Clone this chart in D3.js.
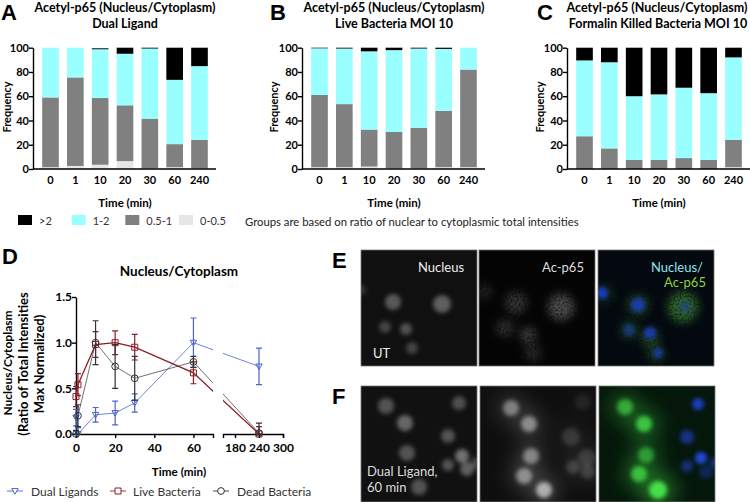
<!DOCTYPE html>
<html>
<head>
<meta charset="utf-8">
<script src="https://d3js.org/d3.v7.min.js"></script>
<style>
  body { margin: 0; background: #fff; }
  svg { display: block; }
  text { font-family: Lato, "Open Sans", sans-serif; fill: #000; }
  .tick text { font-size: 11px; font-weight: 700; }
  .big .tick text { font-size: 12px; }
  .bold { font-weight: 700; }
  .letter { font-family: "Liberation Sans", sans-serif; font-weight: 700; font-size: 22px; }
</style>
</head>
<body>
<div id="chart"></div>
<script>
// time points for the stacked bars
var times = ['0', '1', '10', '20', '30', '60', '240'];
var groupKeys = ['0-0.5', '0.5-1', '1-2', '>2'];
var groupColors = ['#e6e6e6', '#808080', '#99ffff', '#000000'];

// panel A, dual ligand
var aLow = [1.5, 2.5, 3.5, 6.5, 0.5, 1.5, 0.5];
var aMid = [57.5, 73, 55, 46, 41, 19, 23.5];
var aHigh = [41, 24.5, 40.2, 42.5, 57.8, 53, 60.8];
var aTop = [0, 0, 0.8, 5, 0.7, 26.5, 15.2];

// panel B, live bacteria
var bLow = [1.5, 1.5, 2, 0.5, 0.5, 1.5, 1.5];
var bMid = [59.5, 52, 30.5, 30, 33.5, 46.5, 80.5];
var bHigh = [38.5, 45.8, 64.5, 67.5, 65.3, 51, 18];
var bTop = [0.5, 0.7, 3, 2, 0.7, 1, 0];

// panel C, formalin killed
var cLow = [0, 0, 0, 0, 0, 0, 1.5];
var cMid = [27, 17, 7.5, 7.5, 9, 7.5, 22.5];
var cHigh = [62.5, 71, 52.5, 54, 58, 55, 68];
var cTop = [10.5, 12, 40, 38.5, 33, 37.5, 8];

// panel D, time course
var lineTimes = [0, 1, 10, 20, 30, 60, 240];
var dualValues = [0.18, 0, 0.21, 0.23, 0.34, 1.0, 0.74];
var dualErrors = [0.09, 0.07, 0.08, 0.13, 0.10, 0.27, 0.20];
var liveValues = [0.41, 0.54, 0.98, 1.0, 0.95, 0.67, 0];
var liveErrors = [0.11, 0.12, 0.14, 0.13, 0.14, 0.12, 0.08];
var deadValues = [0, 0.2, 1.0, 0.74, 0.61, 0.79, 0.01];
var deadErrors = [0.04, 0.12, 0.24, 0.24, 0.24, 0.06, 0.11];

// microscopy panels: [x, y, radius, brightness], in panel pixels (0-116)
var eNuclei = [[32, 52, 8, 0.3], [81, 54, 9, 0.33], [24, 77, 6, 0.22], [45, 79, 6, 0.28], [51, 98, 6, 0.22], [0, 40, 5, 0.16]];
var eP65 = [[37, 53, 10, 0.2], [82, 57, 12, 0.3], [26, 78, 8, 0.18], [49, 85, 8, 0.22], [54, 103, 8, 0.15], [6, 42, 7, 0.12]];
var eBlue = [[4, 43, 6, 0.9], [40, 55, 7, 0.8], [87, 57, 6, 0.4], [31, 80, 6, 0.5], [52, 83, 6, 0.8], [60, 103, 5, 0.7]];
var eGreen = [[6, 44, 9, 0.2], [40, 55, 10, 0.35], [85, 57, 14, 0.6], [31, 80, 8, 0.35], [52, 88, 9, 0.35], [58, 104, 8, 0.3]];
var fNuclei = [[25, 20, 8, 0.28], [44, 37, 8, 0.36], [98, 17, 7, 0.26], [87, 50, 7, 0.28], [46, 67, 8, 0.28], [101, 70, 7, 0.4], [87, 79, 6, 0.28], [106, 83, 7, 0.33], [58, 101, 8, 0.28], [116, 77, 6, 0.22]];
var fP65 = [[31, 22, 8, 0.4], [49, 38, 8, 0.45], [51, 70, 8, 0.42], [44, 90, 8, 0.45], [64, 104, 8, 0.6], [91, 51, 9, 0.14], [107, 72, 9, 0.14], [93, 81, 7, 0.16], [108, 86, 7, 0.16], [103, 16, 8, 0.07]];
var fGreen = [[26, 21, 8, 0.65], [45, 38, 8, 0.8], [47, 69, 8, 0.55], [40, 88, 8, 0.75], [59, 104, 9, 1]];
var fBlue = [[99, 18, 6, 0.85], [88, 51, 7, 0.6], [102, 72, 6, 1], [88, 80, 6, 0.5], [107, 86, 7, 0.35], [116, 77, 5, 0.6]];

var svg = d3.select('#chart').append('svg').attr('width', 750).attr('height', 502);

function label(str, x, y, size, cls, anchor, color, rotate) {
  var t = svg.append('text')
    .attr('font-size', size)
    .attr('class', cls || null)
    .attr('text-anchor', anchor || 'middle')
    .attr('dominant-baseline', 'central')
    .style('fill', color || '#000')
    .text(str);
  if (rotate) {
    t.attr('transform', 'translate(' + x + ',' + y + ')rotate(-90)');
  } else {
    t.attr('x', x).attr('y', y);
  }
  return t;
}

// panel letters sit on their baseline
function letter(str, x, y) {
  svg.append('text').attr('class', 'letter').attr('x', x).attr('y', y).text(str);
}

function styleAxis(g) {
  g.selectAll('path, line').attr('stroke', '#000').attr('stroke-width', 1.4);
}

// stacked bar panel
function stackedBars(low, mid, high, top, x0, x1) {
  var rows = times.map(function (t, i) {
    return { time: t, '0-0.5': low[i], '0.5-1': mid[i], '1-2': high[i], '>2': top[i] };
  });
  var series = d3.stack().keys(groupKeys)(rows);
  var x = d3.scaleBand().domain(times).range([x0, x1]).padding(0.33);
  var y = d3.scaleLinear().domain([0, 100]).range([169, 47.7]);

  series.forEach(function (s, k) {
    svg.append('g').attr('fill', groupColors[k])
      .selectAll('rect').data(s).enter().append('rect')
      .attr('x', function (d) { return x(d.data.time); })
      .attr('y', function (d) { return y(d[1]); })
      .attr('width', x.bandwidth())
      .attr('height', function (d) { return y(d[0]) - y(d[1]); });
  });

  svg.append('g').attr('transform', 'translate(' + (x0 - 1) + ',0)')
    .call(d3.axisLeft(y).tickValues([0, 20, 40, 60, 80, 100]).tickSize(4).tickSizeOuter(0).tickPadding(0))
    .call(styleAxis);
  svg.append('g').attr('transform', 'translate(0,169)')
    .call(d3.axisBottom(x).tickSize(0).tickPadding(7))
    .call(styleAxis)
    .select('.domain').attr('d', 'M' + (x0 - 1) + ',0H' + x1);
}

stackedBars(aLow, aMid, aHigh, aTop, 34, 216);
stackedBars(bLow, bMid, bHigh, bTop, 303, 485);
stackedBars(cLow, cMid, cHigh, cTop, 568, 750);

letter('A', 1, 20);
letter('B', 270, 20);
letter('C', 537, 20);

label('Acetyl-p65 (Nucleus/Cytoplasm)', 125, 7.5, 12.5, 'bold');
label('Dual Ligand', 125, 23, 12.5, 'bold');
label('Acetyl-p65 (Nucleus/Cytoplasm)', 394, 7.5, 12.5, 'bold');
label('Live Bacteria MOI 10', 394, 23, 12.5, 'bold');
label('Acetyl-p65 (Nucleus/Cytoplasm)', 657, 7.5, 12.5, 'bold');
label('Formalin Killed Bacteria MOI 10', 658, 23, 12.5, 'bold');

[[6, 125], [273, 394], [539, 659]].forEach(function (p) {
  label('Frequency', p[0], 107, 11, 'bold', 'middle', '#000', true);
  label('Time (min)', p[1], 202, 11.5, 'bold');
});

// group legend
var legendX = d3.scalePoint().domain(['>2', '1-2', '0.5-1', '0-0.5']).range([18, 179]);
['>2', '1-2', '0.5-1', '0-0.5'].forEach(function (k) {
  svg.append('rect').attr('x', legendX(k)).attr('y', 215).attr('width', 14).attr('height', 10)
    .attr('fill', groupColors[groupKeys.indexOf(k)]);
  label(k, legendX(k) + 21, 220.5, 11, null, 'start', '#333');
});
label('Groups are based on ratio of nuclear to cytoplasmic total intensities', 245, 221.5, 11.3, null, 'start', '#222');

// panel D
var lx = d3.scaleLinear().domain([0, 70, 150, 300]).range([76, 213, 223, 283]);
var ly = d3.scaleLinear().domain([0, 1.5]).range([434, 297]);

var defs = svg.append('defs');
defs.append('clipPath').attr('id', 'segLeft').append('rect')
  .attr('x', 60).attr('y', 280).attr('width', lx(70) - 60).attr('height', 170);
defs.append('clipPath').attr('id', 'segRight').append('rect')
  .attr('x', lx(150)).attr('y', 280).attr('width', 70).attr('height', 170);

svg.append('g').attr('class', 'big').attr('transform', 'translate(0,434)')
  .call(d3.axisBottom(d3.scaleLinear().domain([0, 70]).range([lx(0), lx(70)]))
    .tickValues([0, 20, 40, 60]).tickSize(4).tickSizeOuter(4).tickPadding(5))
  .call(styleAxis);
svg.append('g').attr('class', 'big').attr('transform', 'translate(0,434)')
  .call(d3.axisBottom(d3.scaleLinear().domain([150, 300]).range([lx(150), lx(300)]))
    .tickValues([180, 240, 300]).tickSize(4).tickSizeOuter(4).tickPadding(5))
  .call(styleAxis);
svg.append('g').attr('class', 'big').attr('transform', 'translate(76,0)')
  .call(d3.axisLeft(ly).tickValues([0, 0.5, 1, 1.5]).tickFormat(d3.format('.1f')).tickSize(4).tickSizeOuter(0).tickPadding(0))
  .call(styleAxis);

var triangle = 'M-3.2,-2.4L3.2,-2.4L0,3.2Z';
var square = 'M-3,-3H3V3H-3Z';
var circle = d3.symbol().type(d3.symbolCircle).size(36)();

function timeSeries(values, errors, color, width, shape) {
  var pts = lineTimes.map(function (t, i) {
    return { t: t, v: values[i], e: errors[i] };
  });
  var line = d3.line()
    .x(function (d) { return lx(d.t); })
    .y(function (d) { return ly(d.v); });
  ['segLeft', 'segRight'].forEach(function (id) {
    svg.append('path').datum(pts)
      .attr('clip-path', 'url(#' + id + ')')
      .attr('d', line).attr('fill', 'none')
      .attr('stroke', color).attr('stroke-width', width);
  });
  var g = svg.append('g').selectAll('g').data(pts).enter().append('g')
    .attr('transform', function (d) { return 'translate(' + lx(d.t) + ',0)'; });
  g.append('path')
    .attr('d', function (d) {
      var top = ly(d.v + d.e), bot = ly(Math.max(d.v - d.e, 0));
      return 'M-3,' + top + 'H3M0,' + top + 'V' + bot + 'M-3,' + bot + 'H3';
    })
    .attr('fill', 'none').attr('stroke', color).attr('stroke-width', 1.2);
  g.append('path')
    .attr('transform', function (d) { return 'translate(0,' + ly(d.v) + ')'; })
    .attr('d', shape).attr('fill', 'none').attr('stroke', color).attr('stroke-width', 1);
}

timeSeries(dualValues, dualErrors, '#4a66c9', 0.8, triangle);
timeSeries(liveValues, liveErrors, '#8a1f26', 1.3, square);
timeSeries(deadValues, deadErrors, '#333333', 0.7, circle);

letter('D', 2, 264);
label('Nucleus/Cytoplasm', 179, 271, 13.5, 'bold');
label('Nucleus/Cytoplasm', 7, 363, 12, 'bold', 'middle', '#000', true);
label('(Ratio of Total Intensities', 23, 364, 13, 'bold', 'middle', '#000', true);
label('Max Normalized)', 39, 364, 13, 'bold', 'middle', '#000', true);
label('Time (min)', 179, 471, 11.7, 'bold');

[['Dual Ligands', 7, 31, '#4a66c9', triangle], ['Live Bacteria', 110, 133, '#8a1f26', square], ['Dead Bacteria', 213, 237, '#333333', circle]].forEach(function (l) {
  svg.append('path').attr('d', 'M' + l[1] + ',491h16').attr('stroke', l[3]).attr('stroke-width', 0.9);
  svg.append('path').attr('d', l[4]).attr('transform', 'translate(' + (l[1] + 8) + ',491)')
    .attr('fill', '#fff').attr('stroke', l[3]);
  label(l[0], l[2], 491, 12, null, 'start', '#333');
});

// microscopy panels
function blurFilter(id, dev) {
  var f = defs.append('filter').attr('id', id)
    .attr('x', '-60%').attr('y', '-60%').attr('width', '220%').attr('height', '220%');
  f.append('feGaussianBlur').attr('stdDeviation', dev);
}
blurFilter('soft', 2.2);
blurFilter('haze', 9);

var speckle = defs.append('filter').attr('id', 'speckle')
  .attr('x', '-60%').attr('y', '-60%').attr('width', '220%').attr('height', '220%');
speckle.append('feGaussianBlur').attr('stdDeviation', 4).attr('result', 'b');
speckle.append('feTurbulence').attr('type', 'fractalNoise').attr('baseFrequency', 0.5).attr('numOctaves', 2).attr('seed', 4);
speckle.append('feColorMatrix').attr('values', '0 0 0 0 1  0 0 0 0 1  0 0 0 0 1  0 0 0 1.6 0');
speckle.append('feComposite').attr('in', 'b').attr('operator', 'in');

var panelScale = d3.scaleLinear().domain([0, 116]).range([0, 116]);
var panelCount = 0;

function panel(x, y, bg) {
  var id = 'panel' + (panelCount++);
  defs.append('clipPath').attr('id', id).append('rect').attr('width', 116).attr('height', 116);
  var g = svg.append('g').attr('transform', 'translate(' + x + ',' + y + ')');
  var inner = g.append('g').attr('clip-path', 'url(#' + id + ')');
  inner.append('rect').attr('width', 116).attr('height', 116).attr('fill', bg);
  g.append('rect').attr('width', 116).attr('height', 116).attr('fill', 'none').attr('stroke', '#777').attr('stroke-width', 0.8);
  return inner;
}

function cells(g, data, color, filter, scale, dim) {
  g.append('g').attr('filter', 'url(#' + filter + ')')
    .selectAll('circle').data(data).enter().append('circle')
    .attr('cx', function (d) { return panelScale(d[0]); })
    .attr('cy', function (d) { return panelScale(d[1]); })
    .attr('r', function (d) { return d[2] * (scale || 1); })
    .attr('fill', color)
    .attr('opacity', function (d) { return d[3] * (dim || 1); });
}

var p;
p = panel(361, 250, '#101010');
cells(p, eNuclei, '#ffffff', 'soft');

p = panel(479, 250, '#040404');
cells(p, eP65, '#ffffff', 'speckle', 1.1);

p = panel(598, 250, '#03090f');
cells(p, eGreen, '#4fa83c', 'speckle', 1.1);
cells(p, eBlue, '#1a3fd0', 'soft');

p = panel(361, 386, '#111111');
cells(p, fNuclei, '#ffffff', 'soft');

p = panel(480, 386, '#0e0e0e');
cells(p, fP65, '#ffffff', 'haze', 2, 0.3);
cells(p, fP65, '#ffffff', 'soft');

p = panel(599, 386, '#05170b');
cells(p, fGreen, '#2f9a30', 'haze', 2, 0.6);
cells(p, fGreen, '#45e04a', 'soft');
cells(p, fBlue, '#2146d8', 'soft');

letter('E', 332, 268);
letter('F', 332, 404);
label('Nucleus', 418, 267, 13, null, 'start', '#eeeeee');
label('Ac-p65', 542, 267, 13, null, 'start', '#dddddd');
label('Nucleus/', 651, 267, 13, null, 'start', '#8fe6ee');
label('Ac-p65', 664, 282, 13, null, 'start', '#8fd13f');
label('UT', 373, 353, 13, null, 'start', '#eeeeee');
label('Dual Ligand,', 367, 471, 13, null, 'start', '#dddddd');
label('60 min', 367, 487, 13, null, 'start', '#dddddd');
</script>
</body>
</html>
